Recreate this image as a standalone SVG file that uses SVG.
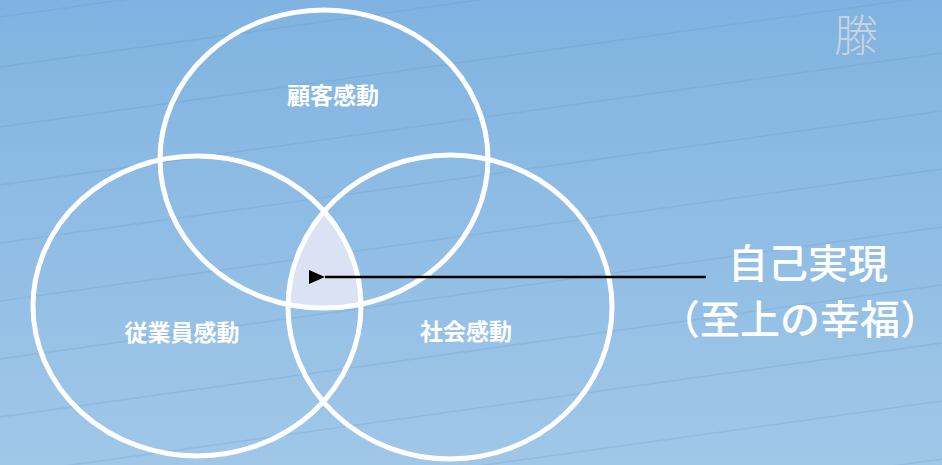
<svg xmlns="http://www.w3.org/2000/svg" width="942" height="465" viewBox="0 0 942 465">
<defs>
<linearGradient id="bg" x1="0" y1="0" x2="0" y2="1">
<stop offset="0" stop-color="#80b3e1"/>
<stop offset="1" stop-color="#a0c7e8"/>
</linearGradient>
<clipPath id="clipL"><ellipse cx="197" cy="306" rx="164" ry="150"/></clipPath>
<clipPath id="clipR"><ellipse cx="450" cy="307" rx="162" ry="152"/></clipPath>
<marker id="arr" markerWidth="16" markerHeight="14" refX="0" refY="7" orient="auto" markerUnits="userSpaceOnUse" viewBox="0 0 16 14">
<path d="M16,0 L0,7 L16,14 Z" fill="#000"/>
</marker>
<style>
.ring{fill:none;stroke:#fff;stroke-width:5}
.lbl{font-family:"Noto Sans CJK JP","Noto Sans",sans-serif;font-size:23px;font-weight:700;fill:#fff;text-anchor:middle}
.big{font-family:"Noto Sans CJK JP","Noto Sans",sans-serif;font-size:40px;font-weight:500;fill:#fff;text-anchor:middle}
.bgl{stroke:#5f8fc0;stroke-opacity:0.2;stroke-width:1.5;fill:none}
</style>
</defs>
<rect width="942" height="465" fill="url(#bg)"/>
<g id="background-lines">
<line class="bgl" x1="0" y1="17" x2="942" y2="-115"/>
<line class="bgl" x1="0" y1="67" x2="942" y2="-65"/>
<line class="bgl" x1="0" y1="127" x2="942" y2="-5"/>
<line class="bgl" x1="0" y1="185" x2="942" y2="53"/>
<line class="bgl" x1="0" y1="243" x2="942" y2="111"/>
<line class="bgl" x1="0" y1="301" x2="942" y2="169"/>
<line class="bgl" x1="0" y1="359" x2="942" y2="227"/>
<line class="bgl" x1="0" y1="417" x2="942" y2="285"/>
<line class="bgl" x1="0" y1="475" x2="942" y2="343"/>
<line class="bgl" x1="0" y1="533" x2="942" y2="401"/>
<line class="bgl" x1="0" y1="591" x2="942" y2="459"/>
</g>
<text x="856" y="52" font-family="'Noto Sans CJK JP',sans-serif" font-size="44" font-weight="300" fill="#c9d3de" text-anchor="middle">滕</text>
<g id="intersection">
<g clip-path="url(#clipL)">
<g clip-path="url(#clipR)">
<ellipse cx="324" cy="159" rx="164" ry="149" fill="#dbe2f3"/>
</g>
</g>
</g>
<g id="node-top">
<ellipse class="ring" cx="324" cy="159" rx="164" ry="149"/>
<text class="lbl" x="333" y="104">顧客感動</text>
</g>
<g id="node-left">
<ellipse class="ring" cx="197" cy="306" rx="164" ry="150"/>
<text class="lbl" x="182" y="341">従業員感動</text>
</g>
<g id="node-right">
<ellipse class="ring" cx="450" cy="307" rx="162" ry="152"/>
<text class="lbl" x="466" y="340">社会感動</text>
</g>
<g id="connectors">
<line x1="706" y1="277" x2="325" y2="277" stroke="#000" stroke-width="2.5" marker-end="url(#arr)"/>
</g>
<g id="node-label">
<text class="big" x="808" y="278">自己実現</text>
<text class="big" x="800" y="334">（至上の幸福）</text>
</g>
</svg>
